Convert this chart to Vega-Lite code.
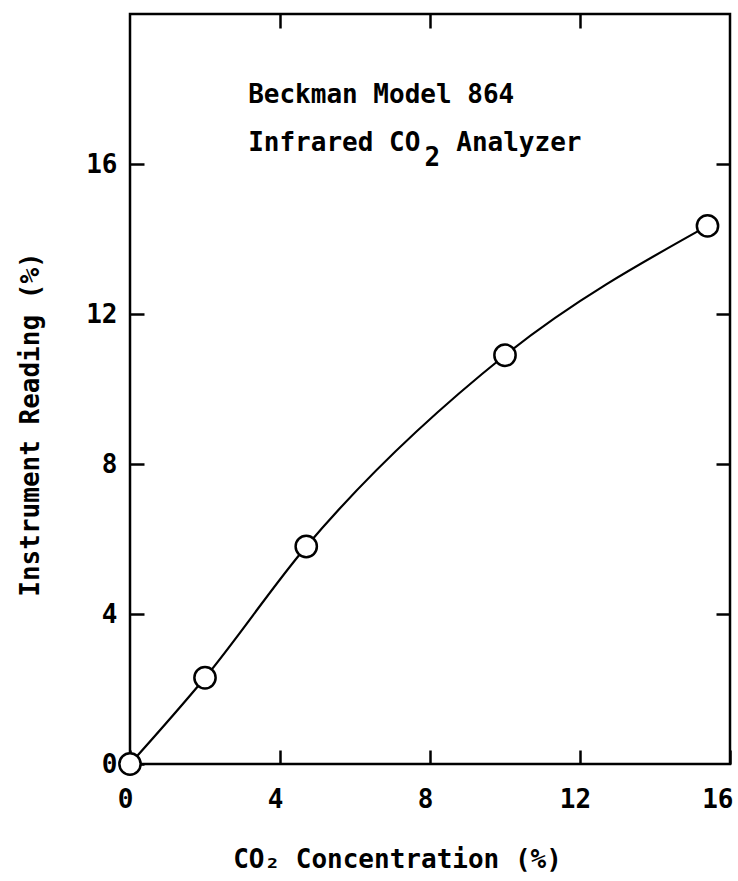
{
  "$schema": "https://vega.github.io/schema/vega-lite/v6.json",
  "width": 600,
  "height": 750,
  "autosize": {"type": "none"},
  "padding": {"left": 130, "top": 14, "right": 8, "bottom": 117},
  "background": "white",
  "config": {
    "view": {"stroke": "black", "strokeWidth": 2.5},
    "font": "DejaVu Sans Mono",
    "axis": {
      "labelFont": "DejaVu Sans Mono",
      "labelFontSize": 26,
      "labelFontWeight": "bold",
      "labelColor": "black",
      "titleFont": "DejaVu Sans Mono",
      "titleFontSize": 26,
      "titleFontWeight": "bold",
      "titleColor": "black",
      "tickColor": "black",
      "tickWidth": 2.5,
      "tickSize": -14,
      "grid": false,
      "domain": false,
      "labelFlush": false
    }
  },
  "data": {
    "values": [
      {"co2": 0, "reading": 0},
      {"co2": 2.0, "reading": 2.3},
      {"co2": 4.7, "reading": 5.8},
      {"co2": 10.0, "reading": 10.9},
      {"co2": 15.4, "reading": 14.35}
    ]
  },
  "resolve": {"axis": {"x": "independent", "y": "independent"}},
  "layer": [
    {
      "mark": {"type": "line", "interpolate": "monotone", "color": "black", "strokeWidth": 2.2},
      "encoding": {
        "x": {
          "field": "co2", "type": "quantitative",
          "scale": {"domain": [0, 16], "nice": false},
          "axis": {
            "orient": "bottom", "values": [0, 4, 8, 12, 16], "title": "CO₂ Concentration (%)",
            "labelPadding": 36, "titleX": 267, "titleY": 103, "titleBaseline": "alphabetic",
            "labelAlign": {"condition": {"test": "datum.value == 16", "value": "right"}, "value": "center"},
            "labelOffset": {"condition": {"test": "datum.value == 16", "value": 3}, "value": -5}
          }
        },
        "y": {
          "field": "reading", "type": "quantitative",
          "scale": {"domain": [0, 20], "nice": false},
          "axis": {"orient": "left", "values": [0, 4, 8, 12, 16], "title": "Instrument Reading (%)", "labelPadding": 27, "titleX": -92, "titleY": 410, "titleBaseline": "alphabetic", "titleAngle": 270}
        }
      }
    },
    {
      "mark": {"type": "point", "shape": "circle", "filled": true, "fill": "white", "stroke": "black", "strokeWidth": 2.5, "size": 452, "opacity": 1},
      "encoding": {
        "x": {
          "field": "co2", "type": "quantitative",
          "scale": {"domain": [0, 16], "nice": false},
          "axis": {"orient": "top", "values": [4, 8, 12], "labels": false, "title": null}
        },
        "y": {
          "field": "reading", "type": "quantitative",
          "scale": {"domain": [0, 20], "nice": false},
          "axis": {"orient": "right", "values": [4, 8, 12, 16], "labels": false, "title": null}
        }
      }
    },
    {
      "data": {"values": [{"label": "Beckman Model 864"}]},
      "mark": {"type": "text", "align": "left", "baseline": "alphabetic", "fontSize": 26, "fontWeight": "bold", "font": "DejaVu Sans Mono", "color": "black"},
      "encoding": {
        "text": {"field": "label"},
        "x": {"datum": 3.15, "type": "quantitative", "axis": null},
        "y": {"datum": 17.63, "type": "quantitative", "axis": null}
      }
    },
    {
      "data": {"values": [{"label": "Infrared CO"}]},
      "mark": {"type": "text", "align": "left", "baseline": "alphabetic", "fontSize": 26, "fontWeight": "bold", "font": "DejaVu Sans Mono", "color": "black"},
      "encoding": {
        "text": {"field": "label"},
        "x": {"datum": 3.15, "type": "quantitative", "axis": null},
        "y": {"datum": 16.35, "type": "quantitative", "axis": null}
      }
    },
    {
      "data": {"values": [{"label": "2"}]},
      "mark": {"type": "text", "align": "left", "baseline": "alphabetic", "fontSize": 26, "fontWeight": "bold", "font": "DejaVu Sans Mono", "color": "black"},
      "encoding": {
        "text": {"field": "label"},
        "x": {"datum": 7.85, "type": "quantitative", "axis": null},
        "y": {"datum": 15.95, "type": "quantitative", "axis": null}
      }
    },
    {
      "data": {"values": [{"label": "Analyzer"}]},
      "mark": {"type": "text", "align": "left", "baseline": "alphabetic", "fontSize": 26, "fontWeight": "bold", "font": "DejaVu Sans Mono", "color": "black"},
      "encoding": {
        "text": {"field": "label"},
        "x": {"datum": 8.7, "type": "quantitative", "axis": null},
        "y": {"datum": 16.35, "type": "quantitative", "axis": null}
      }
    }
  ]
}
